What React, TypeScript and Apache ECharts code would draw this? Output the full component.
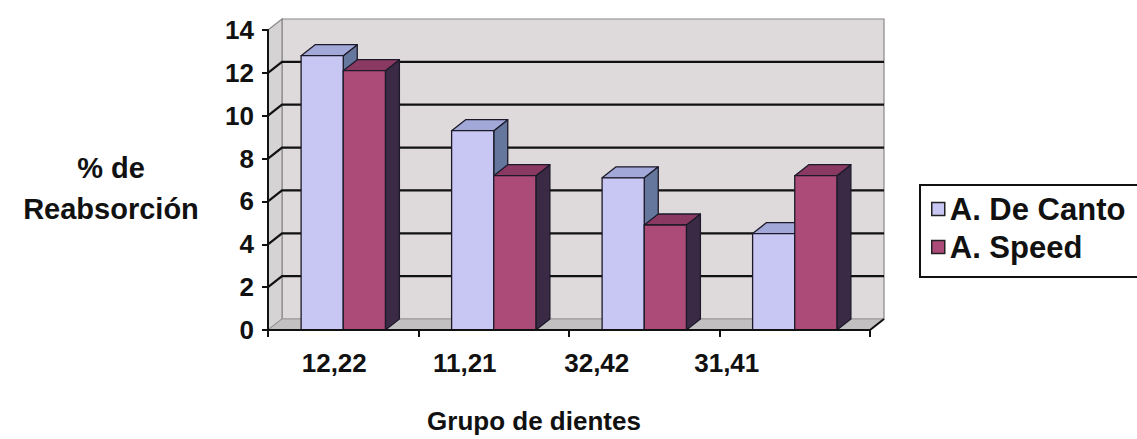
import React, { useEffect, useRef } from "react";
import * as echarts from "echarts";

const categories = ["12,22", "11,21", "32,42", "31,41"];
const deCanto = [12.8, 9.3, 7.1, 4.5];
const speed = [12.1, 7.2, 4.9, 7.2];
const seriesNames = ["A. De Canto", "A. Speed"];
const yTicks = [0, 2, 4, 6, 8, 10, 12, 14];
const labelShift = [18, 58, 95, 136];

const DX = 14;
const DY = -11;
const BAR_FRAC = 0.28;

const palettes = [
  { front: "#c8c6f3", top: "#a2a8d8", side: "#65779d" },
  { front: "#ad4b78", top: "#8a3a62", side: "#3b2a45" },
];

const FONT = "'Liberation Sans', Arial, sans-serif";

export default function App() {
  const ref = useRef<HTMLDivElement>(null);
  useEffect(() => {
    if (!ref.current) return;
    const chart = echarts.init(ref.current, undefined, { renderer: "svg" });

    const barRender = (si: number) => (params: any, api: any) => {
      const cat = api.value(0);
      const val = api.value(1);
      const top = api.coord([cat, val]);
      const base = api.coord([cat, 0]);
      const band = api.size([1, 0])[0];
      const w = band * BAR_FRAC;
      const xl = si === 0 ? top[0] - w : top[0];
      const xr = xl + w;
      const yt = top[1];
      const yb = base[1];
      const p = palettes[si];
      const stroke = { stroke: "#1c1a2a", lineWidth: 1.3, lineJoin: "round" };
      return {
        type: "group",
        children: [
          {
            type: "polygon",
            shape: { points: [[xr, yt], [xr + DX, yt + DY], [xr + DX, yb + DY], [xr, yb]] },
            style: { fill: p.side, ...stroke },
          },
          {
            type: "polygon",
            shape: { points: [[xl, yt], [xl + DX, yt + DY], [xr + DX, yt + DY], [xr, yt]] },
            style: { fill: p.top, ...stroke },
          },
          {
            type: "polygon",
            shape: { points: [[xl, yt], [xr, yt], [xr, yb], [xl, yb]] },
            style: { fill: p.front, ...stroke },
          },
        ],
      };
    };

    const wallRender = (params: any, api: any) => {
      const cs = params.coordSys;
      const x0 = cs.x;
      const x1 = cs.x + cs.width;
      const y0 = api.coord([0, 0])[1];
      const yTop = api.coord([0, yTicks[yTicks.length - 1]])[1];
      const children: any[] = [];
      children.push({
        type: "polygon",
        shape: { points: [[x0 + DX, yTop + DY], [x1 + DX, yTop + DY], [x1 + DX, y0 + DY], [x0 + DX, y0 + DY]] },
        style: { fill: "#dedadb", stroke: "#8a8888", lineWidth: 1.2 },
      });
      children.push({
        type: "polygon",
        shape: { points: [[x0, yTop], [x0 + DX, yTop + DY], [x0 + DX, y0 + DY], [x0, y0]] },
        style: { fill: "#d6d3d4", stroke: "#8a8888", lineWidth: 1.2 },
      });
      children.push({
        type: "polygon",
        shape: { points: [[x0, y0], [x1, y0], [x1 + DX, y0 + DY], [x0 + DX, y0 + DY]] },
        style: { fill: "#c2c0c0", stroke: "#9a9898", lineWidth: 1 },
      });
      yTicks.forEach((v) => {
        if (v === 0 || v === yTicks[yTicks.length - 1]) return;
        const y = api.coord([0, v])[1];
        children.push({
          type: "polyline",
          shape: { points: [[x0, y], [x0 + DX, y + DY], [x1 + DX, y + DY]] },
          style: { stroke: "#111", lineWidth: 2.2, fill: "none" },
        });
      });
      children.push({
        type: "line",
        shape: { x1: x1, y1: y0, x2: x1 + DX, y2: y0 + DY },
        style: { stroke: "#111", lineWidth: 2 },
      });
      return { type: "group", children };
    };

    chart.setOption({
      animation: false,
      backgroundColor: "#ffffff",
      textStyle: { fontFamily: FONT },
      grid: { left: 268, right: 267, top: 30, bottom: 104 },
      legend: {
        left: 920,
        top: 185,
        orient: "vertical",
        icon: "rect",
        itemWidth: 13,
        itemHeight: 13,
        itemGap: 6,
        padding: [8, 24, 14, 11],
        borderColor: "#111",
        borderWidth: 2,
        selectedMode: false,
        textStyle: { fontSize: 31, fontWeight: "bold", color: "#111", fontFamily: FONT, lineHeight: 32 },
        data: [
          { name: seriesNames[0], itemStyle: { color: palettes[0].front, borderColor: "#222", borderWidth: 1.5 } },
          { name: seriesNames[1], itemStyle: { color: palettes[1].front, borderColor: "#222", borderWidth: 1.5 } },
        ],
      },
      xAxis: {
        type: "category",
        data: categories,
        z: 5,
        name: "Grupo de dientes",
        nameLocation: "middle",
        nameGap: 78,
        nameTextStyle: { fontSize: 26, fontWeight: "bold", color: "#111", fontFamily: FONT, padding: [0, 70, 0, 0] },
        axisLine: { lineStyle: { color: "#111", width: 2 } },
        axisTick: { show: true, length: 7, lineStyle: { color: "#111", width: 2 } },
        axisLabel: {
          interval: 0,
          margin: 20,
          formatter: (v: string, i: number) => `{l${i}|${v}}`,
          rich: Object.fromEntries(
            labelShift.map((s, i) => [
              `l${i}`,
              { fontSize: 26, fontWeight: "bold", color: "#111", fontFamily: FONT, padding: [0, s, 0, 0] },
            ])
          ),
        },
        splitLine: { show: false },
      },
      yAxis: {
        type: "value",
        min: 0,
        max: 14,
        interval: 2,
        z: 5,
        axisLine: { show: true, lineStyle: { color: "#111", width: 2 } },
        axisTick: { show: true, length: 6, lineStyle: { color: "#111", width: 2 } },
        axisLabel: { fontSize: 26, fontWeight: "bold", color: "#111", fontFamily: FONT, margin: 14 },
        splitLine: { show: false },
      },
      graphic: [
        {
          type: "text",
          x: 111,
          y: 188,
          style: {
            text: "% de\nReabsorción",
            align: "center",
            verticalAlign: "middle",
            fontSize: 29,
            fontWeight: "bold",
            lineHeight: 41,
            fill: "#111",
            fontFamily: FONT,
          },
        },
      ],
      series: [
        {
          type: "custom",
          name: "walls",
          z: 1,
          silent: true,
          renderItem: wallRender,
          data: [[0, 0]],
        },
        {
          type: "custom",
          name: seriesNames[0],
          z: 2,
          itemStyle: { color: palettes[0].front },
          renderItem: barRender(0),
          data: deCanto.map((v, i) => [i, v]),
        },
        {
          type: "custom",
          name: seriesNames[1],
          z: 3,
          itemStyle: { color: palettes[1].front },
          renderItem: barRender(1),
          data: speed.map((v, i) => [i, v]),
        },
      ],
    });
    return () => chart.dispose();
  }, []);
  return (
    <div
      ref={ref}
      style={{ position: "fixed", left: 0, top: 0, width: 1137, height: 439, background: "#fff" }}
    />
  );
}
